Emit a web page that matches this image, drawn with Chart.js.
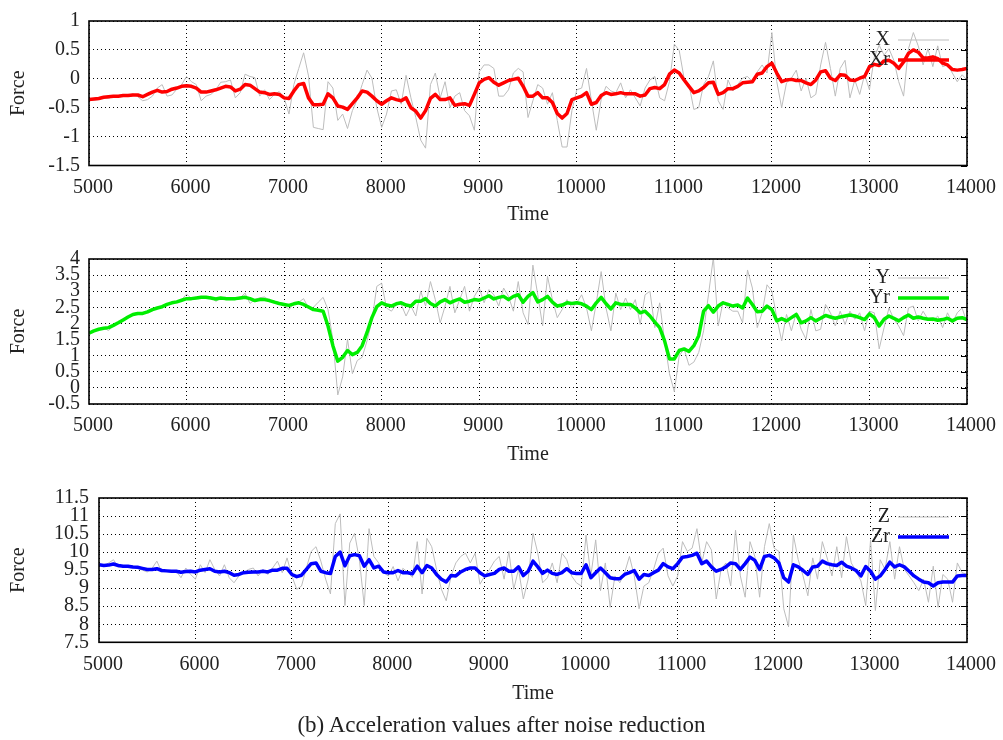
<!DOCTYPE html>
<html>
<head>
<meta charset="utf-8">
<script src="https://cdn.jsdelivr.net/npm/chart.js@4.4.1/dist/chart.umd.min.js"></script>
<style>
  html, body { margin: 0; padding: 0; background: #fff; }
  #wrap { position: relative; width: 1003px; height: 740px; overflow: hidden; }
  canvas { position: absolute; left: 0; }
  #caption {
    position: absolute; left: 0; width: 1003px; top: 712px;
    text-align: center; font: 23px 'Liberation Serif', serif; color: #222;
  }
</style>
</head>
<body>
<div id="wrap">
  <canvas id="cx" width="1003" height="238" style="top:0px"></canvas>
  <canvas id="cy" width="1003" height="238" style="top:238px"></canvas>
  <canvas id="cz" width="1003" height="238" style="top:476px"></canvas>
  <div id="caption">(b) Acceleration values after noise reduction</div>
</div>

<script>
/* ========================================
   DATA (sampled every 50 time units, 5000..14000)
======================================== */

const times = Array.from({ length: 181 }, (_, i) => 5000 + i * 50);

const xTickValues = [5000, 6000, 7000, 8000, 9000, 10000, 11000, 12000, 13000, 14000];

const forceTicksX = [-1.5, -1, -0.5, 0, 0.5, 1];
const forceTicksY = [-0.5, 0, 0.5, 1, 1.5, 2, 2.5, 3, 3.5, 4];
const forceTicksZ = [7.5, 8, 8.5, 9, 9.5, 10, 10.5, 11, 11.5];

// X axis: raw and reduced
const xRaw = [
  -0.36,-0.37,-0.36,-0.33,-0.34,-0.30,-0.31,-0.28,-0.29,-0.26,-0.31,-0.38,-0.36,-0.30,-0.16,-0.10,-0.30,-0.28,-0.18,-0.10,
  0.04,-0.05,-0.10,-0.38,-0.30,-0.27,-0.19,-0.06,-0.05,-0.02,-0.33,-0.24,0.08,0.04,0.02,-0.30,-0.19,-0.36,-0.27,-0.22,
  -0.33,-0.61,-0.10,0.18,0.45,0.05,-0.84,-0.86,-0.88,-0.05,-0.16,-0.72,-0.61,-0.86,-0.55,-0.36,-0.10,0.15,0.01,-0.50,
  -0.84,-0.61,-0.21,-0.19,-0.44,0.06,-0.33,-0.67,-1.06,-1.20,-0.10,0.10,-0.33,-0.05,-0.50,-0.30,-0.24,-0.55,-0.64,-0.89,
  0.12,0.24,0.24,0.18,-0.30,-0.30,-0.19,0.10,0.18,0.12,-0.67,-0.38,-0.10,-0.16,-0.44,-0.24,-0.72,-1.18,-1.18,-0.55,
  -0.19,-0.16,0.18,-0.38,-0.89,-0.36,-0.13,-0.21,-0.24,-0.07,-0.33,-0.19,-0.33,-0.47,-0.16,-0.02,0.04,-0.33,-0.38,-0.05,
  0.60,0.49,0.01,-0.10,-0.53,-0.50,-0.10,0.04,0.31,-0.38,-0.53,-0.02,-0.21,-0.10,0.01,0.04,-0.05,0.12,0.24,0.10,
  0.80,-0.05,-0.50,-0.07,0.01,0.15,-0.21,0.01,-0.33,-0.27,0.24,0.63,0.18,-0.30,0.18,0.32,-0.33,-0.02,-0.27,0.07,
  -0.19,0.38,0.58,0.41,0.52,0.32,-0.05,-0.30,0.52,0.80,0.57,0.24,0.52,0.21,0.57,0.21,0.24,0.10,-0.05,0.07,
  -0.02
];
const xReduced = [
  -0.36,-0.35,-0.34,-0.32,-0.31,-0.30,-0.30,-0.29,-0.29,-0.28,-0.28,-0.31,-0.27,-0.23,-0.20,-0.23,-0.22,-0.18,-0.16,-0.13,
  -0.12,-0.13,-0.16,-0.23,-0.23,-0.21,-0.19,-0.16,-0.13,-0.14,-0.21,-0.18,-0.10,-0.11,-0.17,-0.23,-0.24,-0.27,-0.26,-0.27,
  -0.33,-0.34,-0.21,-0.10,-0.08,-0.33,-0.45,-0.45,-0.44,-0.26,-0.33,-0.47,-0.49,-0.53,-0.43,-0.33,-0.21,-0.23,-0.30,-0.38,
  -0.44,-0.38,-0.33,-0.36,-0.38,-0.33,-0.50,-0.56,-0.68,-0.55,-0.34,-0.27,-0.36,-0.36,-0.33,-0.46,-0.44,-0.43,-0.46,-0.27,
  -0.07,-0.01,0.02,-0.06,-0.11,-0.07,-0.03,-0.01,0.01,-0.13,-0.30,-0.30,-0.24,-0.33,-0.33,-0.41,-0.60,-0.68,-0.60,-0.36,
  -0.33,-0.30,-0.24,-0.44,-0.41,-0.29,-0.24,-0.27,-0.26,-0.24,-0.26,-0.26,-0.26,-0.30,-0.28,-0.17,-0.15,-0.17,-0.10,0.08,
  0.15,0.10,-0.02,-0.13,-0.24,-0.21,-0.15,-0.07,-0.06,-0.27,-0.24,-0.17,-0.17,-0.13,-0.07,-0.06,-0.05,0.08,0.10,0.21,
  0.27,0.10,-0.05,-0.02,-0.01,-0.03,-0.03,-0.07,-0.10,-0.02,0.12,0.14,0.01,-0.03,0.07,0.06,-0.02,-0.03,0.01,0.04,
  0.21,0.25,0.23,0.31,0.32,0.27,0.18,0.29,0.44,0.50,0.46,0.36,0.36,0.38,0.35,0.27,0.24,0.16,0.15,0.16,
  0.18
];

// Y axis: raw and reduced
const yRaw = [
  1.70,1.78,1.82,1.86,1.78,1.92,2.04,2.12,2.18,2.30,2.33,2.28,2.36,2.45,2.46,2.55,2.56,2.66,2.64,2.74,
  2.91,2.78,2.80,2.84,2.82,2.84,2.68,2.80,2.82,2.74,2.78,2.80,2.94,2.62,2.74,2.80,2.82,2.72,2.70,2.64,
  2.58,2.43,2.62,2.66,2.77,2.48,2.50,2.66,2.81,2.43,1.50,-0.22,0.34,1.51,0.44,0.85,0.95,1.46,2.08,3.15,
  3.25,2.48,2.38,2.59,2.59,2.23,2.54,2.23,3.00,2.54,3.30,2.74,2.02,2.54,3.15,2.33,2.74,3.15,2.38,2.84,
  3.10,2.64,3.05,2.89,2.54,3.10,2.84,2.38,3.30,2.33,1.97,3.81,2.89,1.92,3.46,2.74,2.18,2.43,2.74,2.48,
  2.64,2.89,2.48,1.77,2.64,3.61,2.48,1.77,2.94,2.43,2.79,2.43,2.74,1.97,2.89,3.00,1.87,2.64,1.46,0.44,
  -0.12,1.00,1.21,0.70,0.80,1.10,1.77,2.89,4.05,1.92,2.69,2.48,2.38,2.38,2.02,3.66,3.10,1.87,2.33,3.20,
  3.00,2.18,1.46,2.28,1.77,2.33,1.82,1.51,2.43,1.77,1.82,2.59,2.33,1.92,2.38,1.97,2.38,2.13,2.33,1.77,
  2.38,2.33,1.21,1.87,2.48,2.13,1.92,1.62,2.48,2.54,2.08,2.38,2.13,2.08,2.23,1.87,2.33,2.02,2.33,2.48,
  2.02
];
const yReduced = [
  1.70,1.77,1.82,1.85,1.87,1.94,2.02,2.11,2.20,2.28,2.31,2.31,2.36,2.43,2.48,2.52,2.59,2.64,2.67,2.72,
  2.77,2.77,2.79,2.81,2.81,2.79,2.76,2.79,2.77,2.77,2.77,2.79,2.81,2.77,2.71,2.74,2.74,2.71,2.66,2.62,
  2.59,2.56,2.61,2.64,2.59,2.51,2.43,2.41,2.38,1.92,1.31,0.83,0.95,1.16,1.03,1.10,1.31,1.72,2.18,2.52,
  2.64,2.57,2.54,2.61,2.64,2.57,2.54,2.69,2.69,2.77,2.62,2.54,2.67,2.74,2.64,2.71,2.76,2.66,2.69,2.74,
  2.72,2.79,2.86,2.76,2.81,2.84,2.74,2.84,2.89,2.66,2.84,2.96,2.67,2.74,2.84,2.66,2.54,2.57,2.64,2.62,
  2.64,2.61,2.54,2.43,2.64,2.81,2.61,2.45,2.64,2.59,2.59,2.59,2.48,2.33,2.38,2.23,2.04,1.87,1.46,0.90,
  0.90,1.16,1.21,1.13,1.31,1.62,2.38,2.55,2.35,2.54,2.64,2.59,2.54,2.57,2.48,2.79,2.59,2.36,2.38,2.54,
  2.43,2.08,2.15,2.08,2.18,2.28,2.02,2.08,2.18,2.08,2.16,2.25,2.20,2.16,2.20,2.23,2.26,2.23,2.18,2.12,
  2.30,2.18,1.92,2.13,2.23,2.16,2.08,2.18,2.26,2.16,2.20,2.16,2.13,2.14,2.10,2.12,2.16,2.08,2.16,2.18,
  2.12
];

// Z axis: raw and reduced
const zRaw = [
  9.65,9.62,9.70,9.79,9.58,9.62,9.57,9.62,9.55,9.50,9.45,9.55,9.75,9.45,9.50,9.46,9.48,9.29,9.56,9.38,
  9.25,9.65,9.43,9.79,9.52,9.34,9.65,9.29,9.15,9.34,9.43,9.52,9.56,9.34,9.52,9.38,9.56,9.75,9.43,9.84,
  9.34,8.97,9.06,9.56,10.02,10.15,9.75,9.25,8.84,10.79,11.06,8.52,10.25,10.52,9.79,8.52,10.65,9.88,9.70,9.43,
  9.34,9.60,9.20,9.55,9.45,9.30,10.29,8.84,10.38,10.15,9.52,8.97,8.65,9.34,9.70,9.88,9.97,9.70,9.97,9.11,
  9.34,9.52,9.75,9.88,9.25,10.02,8.97,9.52,8.70,9.25,10.52,9.97,9.15,9.29,9.70,9.15,9.97,9.79,9.34,9.15,
  9.06,10.47,9.34,10.34,8.93,9.70,8.47,9.34,9.15,9.43,9.88,9.34,8.43,9.06,9.15,9.52,9.97,10.11,9.34,9.06,
  9.34,10.29,10.02,10.11,10.65,9.70,10.29,10.06,8.70,9.52,9.70,9.06,10.61,9.34,8.75,10.29,9.88,8.75,10.15,10.79,
  10.11,10.02,8.43,7.93,10.47,9.79,9.34,8.79,9.84,9.25,10.29,9.84,9.34,10.15,9.29,10.43,9.70,9.47,9.20,8.52,
  10.34,8.38,9.79,9.52,10.29,9.25,10.15,9.52,9.34,9.15,8.93,9.25,8.61,9.61,8.47,9.38,9.25,8.61,9.70,9.43,
  9.38
];
const zReduced = [
  9.65,9.63,9.64,9.67,9.63,9.61,9.61,9.59,9.58,9.55,9.52,9.52,9.54,9.49,9.48,9.47,9.47,9.44,9.46,9.47,
  9.45,9.50,9.52,9.54,9.47,9.45,9.47,9.43,9.36,9.38,9.43,9.44,9.45,9.45,9.47,9.45,9.50,9.50,9.55,9.55,
  9.38,9.32,9.36,9.52,9.68,9.70,9.47,9.43,9.41,9.88,10.00,9.62,9.90,9.93,9.90,9.61,9.79,9.56,9.61,9.45,
  9.43,9.43,9.49,9.43,9.43,9.40,9.61,9.43,9.63,9.56,9.38,9.25,9.17,9.35,9.34,9.45,9.52,9.56,9.56,9.43,
  9.34,9.38,9.41,9.52,9.56,9.47,9.47,9.59,9.35,9.47,9.75,9.59,9.41,9.50,9.41,9.38,9.43,9.54,9.43,9.41,
  9.41,9.65,9.29,9.43,9.56,9.43,9.29,9.26,9.26,9.38,9.43,9.49,9.25,9.38,9.35,9.43,9.50,9.68,9.59,9.54,
  9.68,9.86,9.88,9.91,9.97,9.68,9.75,9.59,9.47,9.52,9.59,9.70,9.68,9.52,9.68,9.86,9.77,9.52,9.88,9.91,
  9.84,9.70,9.29,9.17,9.65,9.59,9.49,9.38,9.59,9.61,9.75,9.68,9.65,9.63,9.72,9.61,9.56,9.49,9.34,9.60,
  9.47,9.25,9.34,9.52,9.72,9.59,9.65,9.59,9.47,9.34,9.25,9.17,9.15,9.06,9.15,9.17,9.17,9.17,9.34,9.35,
  9.35
];

/* ========================================
   LAYOUT (page pixels)
======================================== */

const panels = [
  { canvas: "cx", top: 0,   height: 238, left: 89, right: 967, plotTop: 18,    plotBottom: 165.5, yPad: 9,
    ticks: forceTicksX, raw: xRaw, reduced: xReduced, rawLabel: "X", redLabel: "Xr", color: "#ff0000", titleY: 215 },
  { canvas: "cy", top: 238, height: 238, left: 89, right: 967, plotTop: 257.3, plotBottom: 404,   yPad: 9,
    ticks: forceTicksY, raw: yRaw, reduced: yReduced, rawLabel: "Y", redLabel: "Yr", color: "#00ee00", titleY: 454.7 },
  { canvas: "cz", top: 476, height: 238, left: 99, right: 967, plotTop: 495.7, plotBottom: 642.3, yPad: 10,
    ticks: forceTicksZ, raw: zRaw, reduced: zReduced, rawLabel: "Z", redLabel: "Zr", color: "#0000ff", titleY: 693.3 }
];

const FONT = "'Liberation Serif', 'Times New Roman', serif";
Chart.defaults.font.family = FONT;
Chart.defaults.font.size = 20;
Chart.defaults.color = "#222";

/* ========================================
   FRAME + KEY (gnuplot style)
======================================== */

const framePlugin = {
  id: "frame",
  afterDatasetsDraw(chart) {
    const { ctx, chartArea: a, scales } = chart;
    ctx.save();

    // right-side inner tick marks
    ctx.strokeStyle = "#000";
    ctx.lineWidth = 1;
    ctx.beginPath();
    scales.y.ticks.forEach(t => {
      const py = Math.round(scales.y.getPixelForValue(t.value)) + 0.5;
      ctx.moveTo(a.right - 6, py);
      ctx.lineTo(a.right, py);
    });
    ctx.stroke();

    // border box
    ctx.lineWidth = 1.6;
    ctx.strokeRect(a.left, a.top, a.right - a.left, a.bottom - a.top);

    // key
    ctx.font = "20px " + FONT;
    ctx.textAlign = "right";
    ctx.textBaseline = "middle";
    chart.data.datasets.forEach((ds, i) => {
      const ky = a.top + 19 + i * 20;
      ctx.fillStyle = "#222";
      ctx.fillText(ds.label, a.right - 77, ky);
      ctx.strokeStyle = ds.borderColor;
      ctx.lineWidth = ds.borderWidth;
      ctx.beginPath();
      ctx.moveTo(a.right - 69, ky);
      ctx.lineTo(a.right - 18, ky);
      ctx.stroke();
    });

    ctx.restore();
  }
};

/* ========================================
   BUILD PANELS
======================================== */

function toPoints(values) {
  return values.map((v, i) => ({ x: times[i], y: v }));
}

panels.forEach(p => {
  const canvasEl = document.getElementById(p.canvas);
  const xAxisHeight = p.top + p.height - p.plotBottom;
  const titlePadBottom = p.top + p.height - 12 - p.titleY;

  new Chart(canvasEl, {
    type: "line",
    data: {
      datasets: [
        {
          label: p.rawLabel,
          data: toPoints(p.raw),
          borderColor: "#bdbdbd",
          borderWidth: 1,
          pointRadius: 0,
          tension: 0,
          order: 1
        },
        {
          label: p.redLabel,
          data: toPoints(p.reduced),
          borderColor: p.color,
          borderWidth: 3.5,
          pointRadius: 0,
          tension: 0,
          borderJoinStyle: "round",
          order: 0
        }
      ]
    },
    options: {
      responsive: false,
      devicePixelRatio: 1,
      animation: false,
      events: [],
      layout: {
        padding: { top: p.plotTop - p.top, right: 1003 - p.right, left: 0, bottom: 0 }
      },
      plugins: {
        legend: { display: false },
        tooltip: { enabled: false }
      },
      scales: {
        x: {
          type: "linear",
          min: xTickValues[0],
          max: xTickValues[xTickValues.length - 1],
          afterBuildTicks: s => { s.ticks = xTickValues.map(v => ({ value: v })); },
          afterFit: s => { s.height = xAxisHeight; },
          ticks: {
            autoSkip: false,
            maxRotation: 0,
            padding: 10,
            labelOffset: 4,
            callback: v => String(v)
          },
          grid: { color: "#000", lineWidth: 1, drawTicks: false },
          border: { display: false, dash: [1, 3] },
          title: {
            display: true,
            text: "Time",
            padding: { top: 0, bottom: titlePadBottom }
          }
        },
        y: {
          type: "linear",
          min: p.ticks[0],
          max: p.ticks[p.ticks.length - 1],
          afterBuildTicks: s => { s.ticks = p.ticks.map(v => ({ value: v })); },
          afterFit: s => { s.width = p.left; },
          ticks: {
            autoSkip: false,
            padding: p.yPad,
            callback: v => String(v)
          },
          grid: { color: "#000", lineWidth: 1, drawTicks: false },
          border: { display: false, dash: [1, 3] },
          title: {
            display: true,
            text: "Force",
            padding: { top: 7, bottom: 0 }
          }
        }
      }
    },
    plugins: [framePlugin]
  });
});
</script>
</body>
</html>
